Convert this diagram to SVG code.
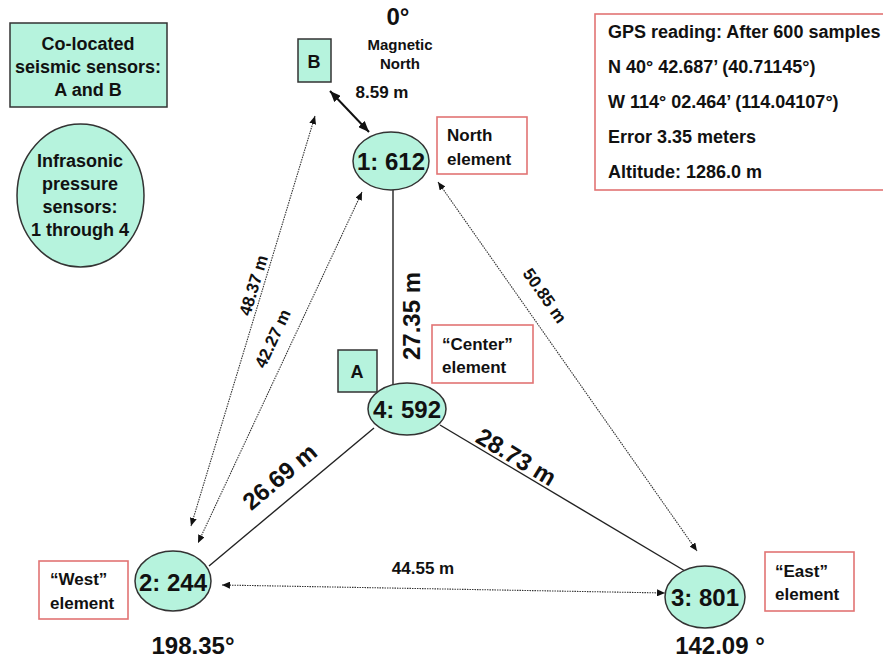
<svg xmlns="http://www.w3.org/2000/svg" width="883" height="662" viewBox="0 0 883 662">
<defs>
<style>
text{font-family:"Liberation Sans",Arial,sans-serif;font-weight:bold;fill:#111}
.aq{fill:#b6f3dd;stroke:#333;stroke-width:1.5}
.red{fill:#fff;stroke:#e27474;stroke-width:1.6}
.solid{stroke:#222;stroke-width:1.4;fill:none}
.dot{stroke:#333;stroke-width:1.1;stroke-dasharray:1.5 1;fill:none}
.dbl{stroke:#111;stroke-width:2;fill:none}
.node{font-size:24px;text-anchor:middle}
.lbl{font-size:17px}
.big{font-size:24px;text-anchor:middle}
.sm{font-size:17px;text-anchor:middle}
.mid{text-anchor:middle}
</style>
<marker id="ah" viewBox="0 0 10 10" refX="10" refY="5" markerWidth="8" markerHeight="7" markerUnits="userSpaceOnUse" orient="auto-start-reverse" preserveAspectRatio="none">
<path d="M0,0 L10,5 L0,10 z" fill="#111"/>
</marker>
<marker id="ahb" viewBox="0 0 10 10" refX="10" refY="5" markerWidth="11" markerHeight="9" markerUnits="userSpaceOnUse" orient="auto-start-reverse" preserveAspectRatio="none">
<path d="M0,0 L10,5 L0,10 z" fill="#111"/>
</marker>
</defs>
<rect width="883" height="662" fill="#fff"/>

<g id="legend-seismic">
<rect class="aq" x="10" y="23" width="157" height="84"/>
<text class="mid" x="88" y="50" font-size="18">Co-located</text>
<text class="mid" x="88" y="73" font-size="18">seismic sensors:</text>
<text class="mid" x="88" y="96" font-size="18">A and B</text>
</g>
<g id="legend-infrasonic">
<ellipse class="aq" cx="80.5" cy="195.5" rx="63.5" ry="71.5"/>
<text class="mid" x="80" y="167" font-size="18">Infrasonic</text>
<text class="mid" x="80" y="190" font-size="18">pressure</text>
<text class="mid" x="80" y="213" font-size="18">sensors:</text>
<text class="mid" x="80" y="236" font-size="18">1 through 4</text>
</g>
<g id="north-label">
<text class="mid" x="398" y="25" font-size="24">0°</text>
<text class="mid" x="400" y="50" font-size="15">Magnetic</text>
<text class="mid" x="400" y="69" font-size="15">North</text>
</g>
<g id="gps">
<rect class="red" x="595" y="14" width="291" height="176"/>
<text x="608" y="38" font-size="18">GPS reading: After 600 samples</text>
<text x="608" y="73" font-size="18">N 40° 42.687’ (40.71145°)</text>
<text x="608" y="108" font-size="18">W 114° 02.464’ (114.04107°)</text>
<text x="608" y="143" font-size="18">Error 3.35 meters</text>
<text x="608" y="178" font-size="18">Altitude: 1286.0 m</text>
</g>

<g id="connectors">
<line class="solid" x1="393" y1="190" x2="393" y2="385"/>
<line class="solid" x1="374" y1="428" x2="209" y2="566"/>
<line class="solid" x1="440" y1="425" x2="690" y2="574"/>
<line class="dbl" x1="330" y1="91" x2="369" y2="132" marker-start="url(#ahb)" marker-end="url(#ahb)"/>
<line class="dot" x1="315" y1="116" x2="191" y2="526" marker-start="url(#ah)" marker-end="url(#ah)"/>
<line class="dot" x1="362" y1="192" x2="198" y2="543" marker-start="url(#ah)" marker-end="url(#ah)"/>
<line class="dot" x1="438" y1="182" x2="697" y2="551" marker-start="url(#ah)" marker-end="url(#ah)"/>
<line class="dot" x1="222" y1="585" x2="665" y2="593" marker-start="url(#ah)" marker-end="url(#ah)"/>
<text class="big" transform="translate(420,316) rotate(-90)">27.35 m</text>
<text class="big" transform="translate(285,483) rotate(-40)">26.69 m</text>
<text class="big" transform="translate(512,464) rotate(31)">28.73 m</text>
<text class="sm" transform="translate(259,287) rotate(-73)">48.37 m</text>
<text class="sm" transform="translate(278,341) rotate(-65)">42.27 m</text>
<text class="sm" transform="translate(540,299) rotate(55)">50.85 m</text>
<text class="sm" x="423" y="574">44.55 m</text>
<text class="sm" x="382" y="98">8.59 m</text>
</g>

<g id="sensor-B">
<rect class="aq" x="298" y="39" width="33" height="43"/>
<text class="mid" x="314" y="68" font-size="18">B</text>
</g>
<g id="sensor-A">
<rect class="aq" x="338" y="350" width="39" height="42"/>
<text class="mid" x="357" y="378" font-size="18">A</text>
</g>
<g id="node-1">
<ellipse class="aq" cx="391" cy="161" rx="38" ry="29"/>
<text class="node" x="391" y="170">1: 612</text>
</g>
<g id="node-4">
<ellipse class="aq" cx="407" cy="409" rx="39" ry="26"/>
<text class="node" x="407" y="418">4: 592</text>
</g>
<g id="node-2">
<ellipse class="aq" cx="173" cy="581" rx="38" ry="30"/>
<text class="node" x="173" y="591">2: 244</text>
</g>
<g id="node-3">
<ellipse class="aq" cx="705" cy="597" rx="40" ry="31"/>
<text class="node" x="705" y="606">3: 801</text>
</g>
<g id="label-north">
<rect class="red" x="437" y="117" width="90" height="57"/>
<text class="lbl" x="447" y="141">North</text>
<text class="lbl" x="447" y="165">element</text>
</g>
<g id="label-center">
<rect class="red" x="432" y="325" width="101" height="58"/>
<text class="lbl" x="442" y="350">“Center”</text>
<text class="lbl" x="442" y="373">element</text>
</g>
<g id="label-west">
<rect class="red" x="39" y="561" width="89" height="58"/>
<text class="lbl" x="50" y="585">“West”</text>
<text class="lbl" x="50" y="609">element</text>
</g>
<g id="label-east">
<rect class="red" x="765" y="552" width="89" height="59"/>
<text class="lbl" x="775" y="577">“East”</text>
<text class="lbl" x="775" y="600">element</text>
</g>
<g id="angles">
<text class="mid" x="193" y="654" font-size="24">198.35°</text>
<text class="mid" x="720" y="654" font-size="24">142.09 °</text>
</g>
</svg>
